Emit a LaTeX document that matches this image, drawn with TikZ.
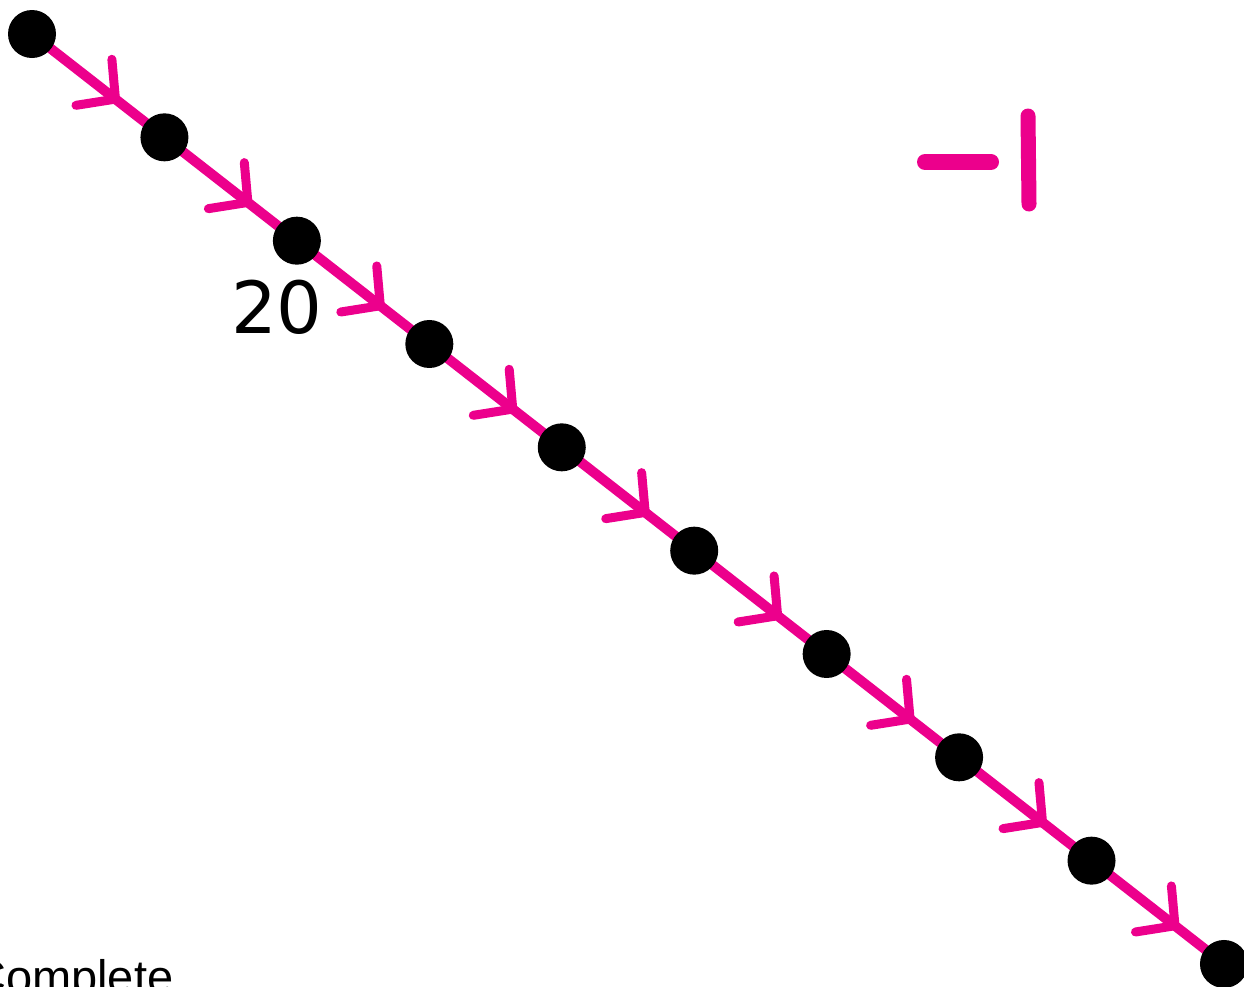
\documentclass[tikz,border=0pt]{standalone}
\usepackage{fontspec}
\usetikzlibrary{decorations.markings,backgrounds}
\definecolor{mag}{RGB}{236,0,140}
\newfontfamily\labelfont{DejaVu Sans}
\newfontfamily\capfont{Liberation Sans}
\begin{document}
\begin{tikzpicture}[x=1pt,y=-1pt,
  dot/.style={circle,fill=black,inner sep=0pt,minimum size=48pt},
  edge/.style={draw=mag,line width=10pt,postaction={decorate},
    decoration={markings,mark=at position 0.63 with {\draw[mag,line width=9pt,line cap=round,line join=round] (-27.3pt,29.2pt) -- (0pt,0pt) -- (-27.3pt,-29.2pt);}}},
  stroke/.style={draw=mag,line cap=round}]
\useasboundingbox (0,0) rectangle (1244,986);
\foreach \i in {0,...,9}
  \node[dot] (d\i) at ({32+132.44*\i},{34+103.33*\i}) {};
\begin{pgfonlayer}{background}
\foreach \i [count=\j from 1] in {0,...,8}
  \path[edge] (d\i.center) -- (d\j.center);
\end{pgfonlayer}
\node[font=\labelfont\fontsize{72}{72}\selectfont] (lbl) at (277,307) {20};
\node[anchor=base west,inner sep=0pt,font=\capfont\fontsize{47}{47}\selectfont] (cap) at (-28,993) {Complete};
\draw[stroke,line width=16pt] (925,162) -- (991,162);
\draw[stroke,line width=15pt] (1028,116) -- (1029,204);
\end{tikzpicture}
\end{document}
